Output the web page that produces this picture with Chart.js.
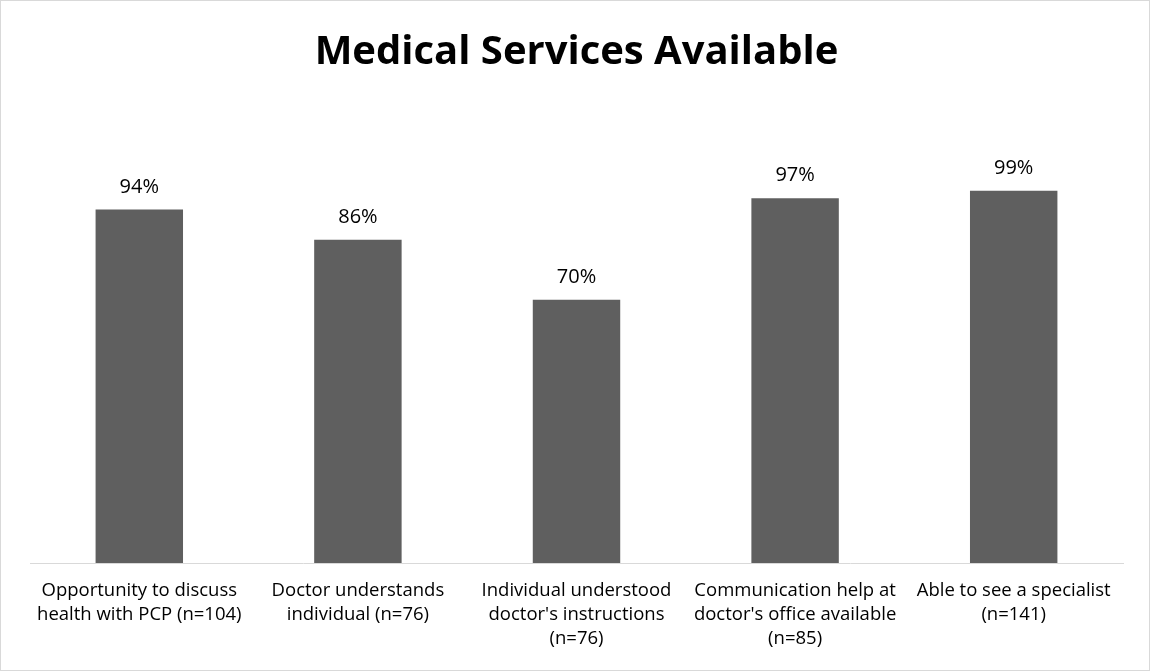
<!DOCTYPE html>
<html>
<head>
<meta charset="utf-8">
<script src="https://cdn.jsdelivr.net/npm/chart.js@4/dist/chart.umd.min.js"></script>
<style>
  html, body { margin: 0; padding: 0; background: #fff; }
  #wrap { width: 1150px; height: 671px; box-sizing: border-box; border: 1px solid #d9d9d9; }
</style>
</head>
<body>
<div id="wrap"><canvas id="chart" width="1148" height="669"></canvas></div>
<script>
const categories = [
  ["Opportunity to discuss", "health with PCP (n=104)"],
  ["Doctor understands", "individual (n=76)"],
  ["Individual understood", "doctor's instructions", "(n=76)"],
  ["Communication help at", "doctor's office available", "(n=85)"],
  ["Able to see a specialist", "(n=141)"]
];
const percentAvailable = [94, 86, 70, 97, 99];

const FONT = "'Open Sans', 'Liberation Sans', sans-serif";

// writes the percentage above each bar
const valueLabels = {
  id: 'valueLabels',
  afterDatasetsDraw(chart) {
    const ctx = chart.ctx;
    const meta = chart.getDatasetMeta(0);
    ctx.save();
    ctx.font = "20px " + FONT;
    ctx.fillStyle = '#000';
    ctx.textAlign = 'center';
    ctx.textBaseline = 'alphabetic';
    meta.data.forEach((bar, i) => {
      ctx.fillText(percentAvailable[i] + '%', bar.x, bar.y - 17);
    });
    ctx.restore();
  }
};

new Chart(document.getElementById('chart'), {
  type: 'bar',
  data: {
    labels: categories,
    datasets: [{
      data: percentAvailable,
      backgroundColor: '#5f5f5f',
      categoryPercentage: 1,
      barPercentage: 0.4
    }]
  },
  options: {
    responsive: false,
    animation: false,
    layout: { padding: { left: 29, right: 26, top: 0, bottom: 11 } },
    plugins: {
      legend: { display: false },
      tooltip: { enabled: false },
      title: {
        display: true,
        text: 'Medical Services Available',
        color: '#000',
        font: { family: FONT, size: 40, weight: 'bold', lineHeight: 1.2 },
        padding: { top: 28, bottom: 110 }
      }
    },
    scales: {
      x: {
        grid: { display: false },
        border: { display: true, color: '#d9d9d9', width: 1 },
        ticks: {
          color: '#000',
          font: { family: FONT, size: 18.5, lineHeight: 24 / 18.5 },
          maxRotation: 0,
          autoSkip: false,
          padding: 8
        }
      },
      y: {
        display: false,
        min: 0,
        max: 100
      }
    }
  },
  plugins: [valueLabels]
});
</script>
</body>
</html>
